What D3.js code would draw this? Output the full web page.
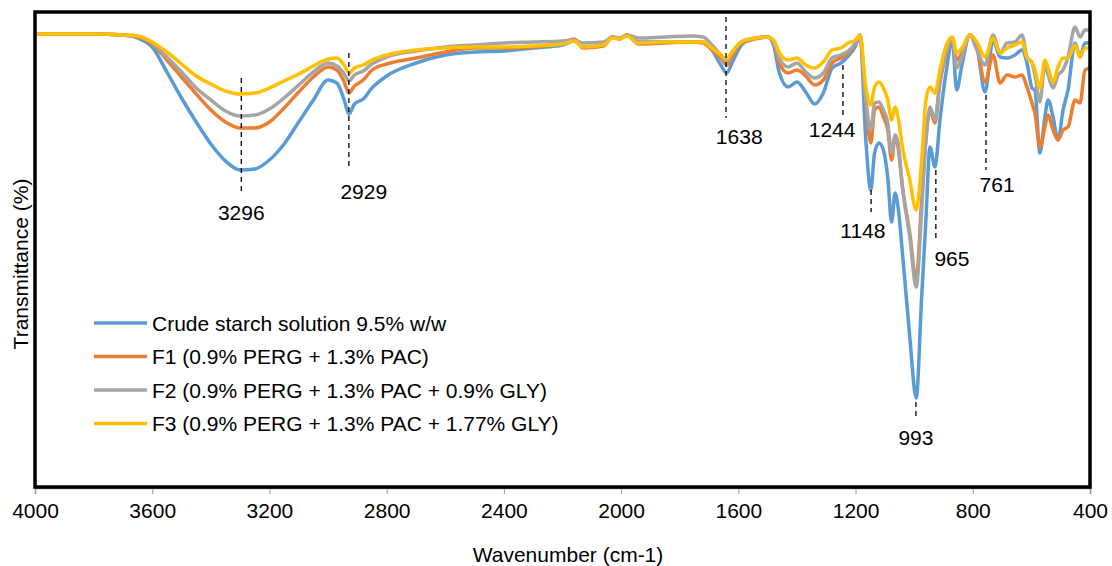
<!DOCTYPE html>
<html><head><meta charset="utf-8">
<script src="https://cdn.jsdelivr.net/npm/d3@7"></script>
<style>
html,body{margin:0;padding:0;background:#fff;}
svg text{font-family:"Liberation Sans",Arial,sans-serif;fill:#000;}
</style></head>
<body><svg id="chart" width="1112" height="566"></svg>
<script>
const wavenumbers = [4000,3800,3700,3650,3600,3550,3500,3450,3400,3350,3300,3250,3200,3150,3100,3050,3000,2970,2945,2929,2910,2880,2850,2800,2700,2600,2500,2400,2300,2200,2160,2130,2060,2030,2005,1980,1940,1850,1760,1720,1690,1660,1640,1620,1590,1560,1500,1480,1460,1430,1400,1370,1340,1310,1280,1250,1225,1200,1185,1165,1148,1135,1120,1105,1090,1077,1065,1055,1040,1015,993,975,960,946,929,912,890,870,855,837,810,786,758,731,707,683,656,632,615,598,588,571,554,543,526,509,492,475,451,434,417,400];

const crude = [90.6,90.6,90.4,89.8,88.0, 83.0,77.8,73.0,68.6,65.2, 63.4,63.6,65.4,68.6,73.0, 77.4,81.4,80.8,77.4,74.6, 76.6,77.6,79.8,82.2,84.8, 86.4,87.0,87.2,87.8,88.4, 89.2,88.0,88.4,90.0,89.6, 90.4,89.0,89.0,89.0,89.0, 87.4,84.4,82.8,85.0,88.4, 89.4,90.0,88.4,82.8,80.0, 81.0,79.0,76.6,78.8,83.8, 84.8,86.2,88.2,90.4,69.4, 59.4,66.8,68.8,67.4,61.8, 53.0,58.8,56.0,46.8,30.0, 17.8,37.4,53.4,68.0,64.0, 73.4,83.4,89.4,79.4,84.4, 90.4,88.0,79.0,89.4,86.0, 85.8,86.4,87.4,84.8,79.8, 79.4,66.8,74.0,77.4,74.0, 69.4,75.4,79.4,88.8,86.0, 88.8,88.8];

const f1 = [90.6,90.6,90.4,90.0,88.6, 85.4,82.0,78.6,75.4,73.0, 71.8,71.8,73.0,75.8,79.0, 82.0,84.0,83.4,81.0,78.8, 80.2,81.4,83.4,84.6,85.8, 87.0,87.8,87.8,88.0,88.8, 89.6,87.8,88.2,90.0,89.6, 90.4,88.6,88.8,89.0,88.8, 87.4,85.8,84.4,86.2,88.8, 89.4,90.0,89.0,84.8,82.8, 83.4,82.2,80.4,81.4,84.8, 85.8,86.8,88.6,90.4,76.8, 68.8,75.4,76.0,74.0,71.4, 65.4,70.0,68.0,60.0,50.8, 41.4,56.8,69.4,75.4,72.8, 80.8,86.8,89.8,85.4,86.8, 90.4,88.0,81.0,86.4,80.8, 82.4,82.0,82.4,80.0,76.8, 74.8,68.0,72.0,74.4,71.4, 69.4,71.4,72.0,77.4,76.8, 83.4,83.8];

const f2 = [90.6,90.6,90.4,90.2,88.8, 86.0,83.0,79.8,77.4,75.2, 74.2,74.4,75.6,77.8,80.4, 83.0,84.8,84.2,82.6,81.2, 82.4,83.2,84.6,86.0,87.2, 88.0,88.4,88.8,89.0,89.2, 89.4,88.8,89.0,90.0,89.8, 90.4,89.8,90.0,90.2,90.0, 88.4,86.4,85.0,86.8,89.0, 89.6,90.0,89.0,85.8,84.0, 84.8,83.0,81.8,82.8,85.8, 86.4,87.2,88.8,90.4,77.4, 71.4,76.8,77.0,75.4,72.8, 66.8,70.4,68.8,60.0,50.0, 40.0,54.8,69.4,76.0,73.4, 81.4,87.0,89.8,83.8,86.0, 90.4,87.4,84.4,90.4,86.8, 88.8,89.0,90.4,86.0,84.8, 82.4,77.0,84.4,82.4,79.8, 82.4,83.4,86.0,92.0,90.0, 91.4,91.4];

const f3 = [90.6,90.6,90.4,90.2,89.0, 87.0,84.6,82.2,80.6,79.2, 78.6,78.8,79.8,81.2,82.6, 84.2,85.6,85.8,84.4,82.8, 83.8,84.4,85.4,86.4,87.4, 87.8,88.0,88.0,88.2,88.6, 89.2,88.0,88.4,89.8,89.6, 90.2,88.8,89.0,89.0,89.0, 87.8,86.4,85.6,87.2,89.0, 89.6,90.0,89.4,86.8,85.4, 85.8,84.4,83.8,85.0,87.4, 87.8,88.8,89.4,90.4,80.0, 76.4,80.0,81.0,79.8,77.4, 73.4,76.0,74.0,68.0,61.4, 55.4,64.8,77.4,80.0,78.8, 83.4,88.4,90.0,86.8,87.8, 90.4,89.0,86.0,89.8,86.8, 87.8,88.4,89.0,85.8,85.0, 83.4,79.8,85.4,83.8,81.0, 84.0,85.8,85.8,88.4,86.0, 87.8,87.8];

const seriesNames = ["Crude starch solution 9.5% w/w","F1 (0.9% PERG + 1.3% PAC)","F2 (0.9% PERG + 1.3% PAC + 0.9% GLY)","F3 (0.9% PERG + 1.3% PAC + 1.77% GLY)"];
const seriesColors = ["#5B9BD5","#ED7D31","#A5A5A5","#FFC000"];
const seriesValues = [crude, f1, f2, f3];

const xTicks = [4000,3600,3200,2800,2400,2000,1600,1200,800,400];

// peak annotations: label, line wavenumber, line top/bottom (T), label wavenumber, label baseline (T)
const peakLabels = ["3296","2929","1638","1244","1148","965","993","761"];
const peakLineW  = [3296,2929,1642,1243,1147,926,994,755];
const peakLineT1 = [81.8,86.8,94.0,84.4,59.4,63.4,17.0,78.4];
const peakLineT2 = [58.4,63.4,73.8,73.8,55.0,49.4,13.4,63.4];
const peakTextW  = [3296,2878,1597,1280,1175,871,994,717];
const peakTextT  = [53.4,57.6,68.6,70.0,49.8,44.2,8.4,59.0];

const svg = d3.select("#chart");
const L = 35, R = 1090, T = 12, B = 487;
const FS = "21px";
const x = d3.scaleLinear().domain([4000,400]).range([L,R]);
const y = d3.scaleLinear().domain([0,95]).range([B,T]);

// x axis
const ax = svg.append("g").attr("transform",`translate(0,${B+1})`)
  .call(d3.axisBottom(x).tickValues(xTicks).tickSize(6).tickPadding(9).tickFormat(d3.format("d")));
ax.select(".domain").attr("stroke","#888").attr("stroke-width",1.5);
ax.selectAll(".tick line").attr("stroke","#999");
ax.selectAll(".tick text").style("font-size",FS).style("font-family","Liberation Sans, Arial, sans-serif");

// lines
const line = d3.line().x((d,i)=>x(wavenumbers[i])).y(d=>y(d)).curve(d3.curveMonotoneX);
seriesValues.forEach((vals,k)=>{
  svg.append("path").datum(vals).attr("d",line)
    .attr("fill","none").attr("stroke",seriesColors[k]).attr("stroke-width",3.5)
    .attr("stroke-linejoin","round").attr("stroke-linecap","round");
});

// frame
svg.append("rect").attr("x",L).attr("y",T).attr("width",R-L).attr("height",B-T)
  .attr("fill","none").attr("stroke","#000").attr("stroke-width",3.5);

// peak annotations
peakLabels.forEach((lab,i)=>{
  svg.append("line").attr("x1",x(peakLineW[i])).attr("x2",x(peakLineW[i]))
    .attr("y1",y(peakLineT1[i])).attr("y2",y(peakLineT2[i]))
    .attr("stroke","#000").attr("stroke-width",1.3).attr("stroke-dasharray","5,4");
  svg.append("text").attr("x",x(peakTextW[i])).attr("y",y(peakTextT[i]))
    .attr("text-anchor","middle").style("font-size",FS).text(lab);
});

// legend
const legY0 = 323, legDY = 33.5;
seriesNames.forEach((n,k)=>{
  const yy = legY0 + k*legDY;
  svg.append("line").attr("x1",94).attr("x2",147).attr("y1",yy).attr("y2",yy)
    .attr("stroke",seriesColors[k]).attr("stroke-width",3.5);
  svg.append("text").attr("x",152).attr("y",yy+7.5).style("font-size",FS).text(n);
});

// axis titles
svg.append("text").attr("x",568).attr("y",562).attr("text-anchor","middle")
  .style("font-size",FS).text("Wavenumber (cm-1)");
svg.append("text").attr("transform","translate(28,264) rotate(-90)").attr("text-anchor","middle")
  .style("font-size",FS).text("Transmittance (%)");
</script></body></html>
